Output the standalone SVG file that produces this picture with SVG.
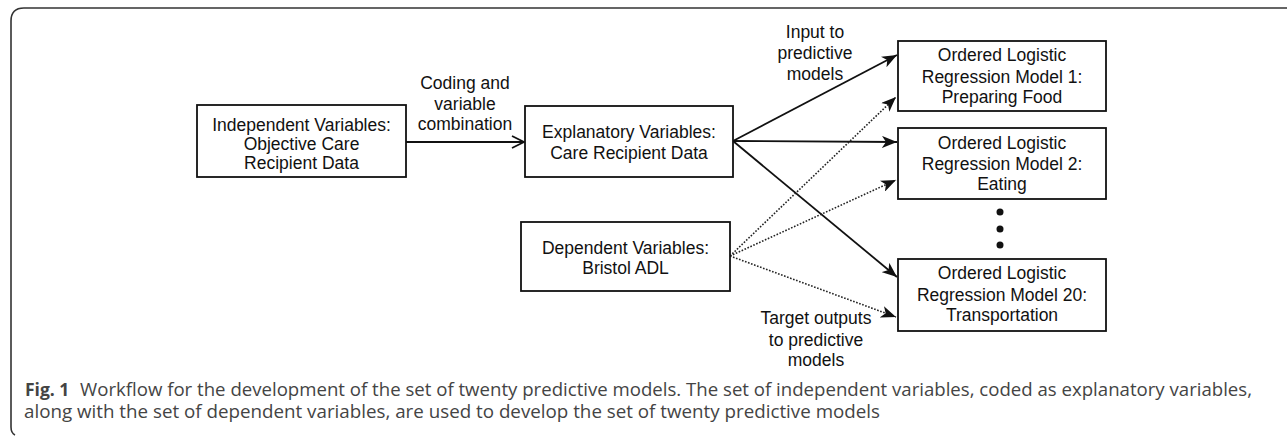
<svg xmlns="http://www.w3.org/2000/svg" width="1287" height="436" viewBox="0 0 1287 436">
<style>
.box{fill:#fff;stroke:#111;stroke-width:1.8}
.t{font-family:"Liberation Sans",Arial,sans-serif;font-size:17.5px;fill:#111;text-anchor:middle}
.solid{fill:none;stroke:#111;stroke-width:1.8}
.dot{fill:none;stroke:#222;stroke-width:1.6;stroke-dasharray:1.6 1.6}
.cap{font-family:"Open Sans","Noto Sans",sans-serif;font-size:17.5px;fill:#444}
</style>
<defs>
<marker id="stealth" markerUnits="userSpaceOnUse" markerWidth="16" markerHeight="12" refX="15" refY="6" orient="auto" viewBox="0 0 16 12">
<path d="M0,0 L15,6 L0,12 L4,6 Z" fill="#111"/>
</marker>
<marker id="open" markerUnits="userSpaceOnUse" markerWidth="16" markerHeight="14" refX="13" refY="7" orient="auto" viewBox="0 0 16 14">
<path d="M1,1 L13,7 L1,13" fill="none" stroke="#111" stroke-width="1.8"/>
</marker>
</defs>
<path d="M15,435 Q11,433 11,427 L11,21 Q11,8 24,8 L1287,8" fill="none" stroke="#333" stroke-width="1.6"/>
<g id="connectors">
<line class="solid" x1="406" y1="142" x2="524" y2="142" marker-end="url(#open)"/>
<line class="solid" x1="733" y1="141" x2="897" y2="55" marker-end="url(#stealth)"/>
<line class="solid" x1="733" y1="141" x2="897" y2="142" marker-end="url(#stealth)"/>
<line class="solid" x1="733" y1="141" x2="897" y2="277" marker-end="url(#stealth)"/>
<line class="dot" x1="730" y1="256" x2="896" y2="97" marker-end="url(#stealth)"/>
<line class="dot" x1="730" y1="256" x2="896" y2="180" marker-end="url(#stealth)"/>
<line class="dot" x1="730" y1="256" x2="896" y2="317" marker-end="url(#stealth)"/>
<text class="t" x="465" y="89">Coding and</text>
<text class="t" x="465" y="110">variable</text>
<text class="t" x="465" y="130">combination</text>
<text class="t" x="815" y="38">Input to</text>
<text class="t" x="815" y="59">predictive</text>
<text class="t" x="815" y="80">models</text>
<text class="t" x="816" y="324">Target outputs</text>
<text class="t" x="816" y="346">to predictive</text>
<text class="t" x="816" y="366">models</text>
</g>
<g id="independent">
<rect class="box" x="197" y="105" width="209" height="72"/>
<text class="t" x="301.5" y="131">Independent Variables:</text>
<text class="t" x="301.5" y="150">Objective Care</text>
<text class="t" x="301.5" y="169">Recipient Data</text>
</g>
<g id="explanatory">
<rect class="box" x="525" y="106" width="208" height="71"/>
<text class="t" x="629" y="138">Explanatory Variables:</text>
<text class="t" x="629" y="159">Care Recipient Data</text>
</g>
<g id="dependent">
<rect class="box" x="521" y="222" width="209" height="69"/>
<text class="t" x="625.5" y="254">Dependent Variables:</text>
<text class="t" x="625.5" y="274">Bristol ADL</text>
</g>
<g id="model1">
<rect class="box" x="898" y="41" width="208" height="70"/>
<text class="t" x="1002" y="61">Ordered Logistic</text>
<text class="t" x="1002" y="83">Regression Model 1:</text>
<text class="t" x="1002" y="103">Preparing Food</text>
</g>
<g id="model2">
<rect class="box" x="898" y="128" width="208" height="71"/>
<text class="t" x="1002" y="149">Ordered Logistic</text>
<text class="t" x="1002" y="170">Regression Model 2:</text>
<text class="t" x="1002" y="190">Eating</text>
</g>
<g id="ellipsis">
<circle cx="1000" cy="212" r="3.5" fill="#111"/>
<circle cx="1000" cy="229" r="3.5" fill="#111"/>
<circle cx="1000" cy="245" r="3.5" fill="#111"/>
</g>
<g id="model20">
<rect class="box" x="898" y="259" width="208" height="72"/>
<text class="t" x="1002" y="279">Ordered Logistic</text>
<text class="t" x="1002" y="301">Regression Model 20:</text>
<text class="t" x="1002" y="321">Transportation</text>
</g>
<g id="caption">
<text class="cap" x="25" y="396" font-weight="bold" fill="#222">Fig. 1</text>
<text class="cap" x="80" y="396" textLength="1172" lengthAdjust="spacingAndGlyphs">Workflow for the development of the set of twenty predictive models. The set of independent variables, coded as explanatory variables,</text>
<text class="cap" x="24" y="418" textLength="856" lengthAdjust="spacingAndGlyphs">along with the set of dependent variables, are used to develop the set of twenty predictive models</text>
</g>
</svg>
